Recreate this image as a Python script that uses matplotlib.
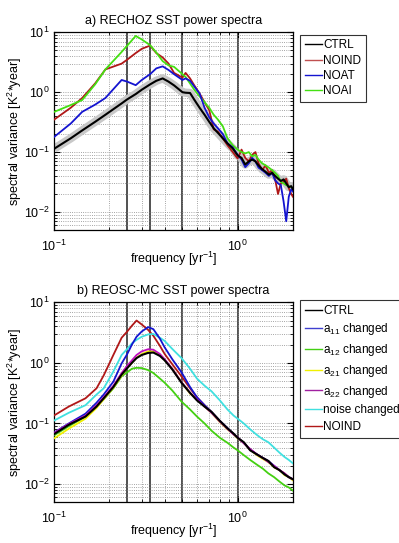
import numpy as np
import matplotlib.pyplot as plt

plt.rcParams['font.family'] = ['Liberation Sans', 'DejaVu Sans']
plt.rcParams['mathtext.fontset'] = 'custom'
plt.rcParams['mathtext.rm'] = 'Liberation Sans'
plt.rcParams['mathtext.default'] = 'regular'

# ---- panel a) RECHOZ ----
freq_a = [0.1, 0.123, 0.142, 0.167, 0.19, 0.233, 0.25, 0.278, 0.3, 0.333,
          0.36, 0.39, 0.42, 0.45, 0.5, 0.52, 0.55, 0.58, 0.62, 0.66,
          0.7, 0.74, 0.78, 0.83, 0.88, 0.94, 1.0, 1.05, 1.1, 1.15,
          1.2, 1.25, 1.3, 1.36, 1.42, 1.48, 1.54, 1.6, 1.66, 1.72,
          1.78, 1.84, 1.9, 1.96, 2.0]
ctrl_a = [0.114, 0.17, 0.23, 0.32, 0.42, 0.65, 0.76, 0.93, 1.1, 1.35,
          1.55, 1.7, 1.5, 1.3, 1.0, 0.98, 0.97, 0.75, 0.55, 0.42,
          0.32, 0.25, 0.21, 0.17, 0.14, 0.115, 0.088, 0.08, 0.062, 0.07,
          0.075, 0.07, 0.06, 0.052, 0.047, 0.042, 0.045, 0.04, 0.036, 0.033,
          0.035, 0.03, 0.026, 0.027, 0.024]
noind_a = [0.35, 0.55, 0.8, 1.4, 2.4, 3.0, 3.5, 4.5, 5.3, 6.0,
           4.5, 3.8, 3.0, 2.1, 1.75, 2.1, 1.7, 1.3, 0.95, 0.68,
           0.5, 0.24, 0.22, 0.17, 0.13, 0.1, 0.078, 0.11, 0.08, 0.07,
           0.09, 0.1, 0.065, 0.05, 0.06, 0.045, 0.05, 0.035, 0.02, 0.03,
           0.032, 0.036, 0.025, 0.02, 0.018]
noat_a = [0.18, 0.3, 0.47, 0.62, 0.8, 1.6, 1.5, 1.31, 1.6, 2.0,
          2.5, 2.7, 2.35, 2.0, 1.6, 1.7, 1.55, 1.25, 0.95, 0.55,
          0.38, 0.3, 0.25, 0.2, 0.14, 0.12, 0.09, 0.075, 0.056, 0.065,
          0.08, 0.07, 0.055, 0.05, 0.045, 0.04, 0.045, 0.034, 0.03, 0.028,
          0.015, 0.007, 0.018, 0.024, 0.022]
noai_a = [0.47, 0.61, 0.74, 1.35, 2.4, 4.7, 6.0, 8.7, 7.6, 6.1,
          4.6, 3.3, 2.8, 2.65, 2.0, 1.8, 1.4, 1.1, 0.85, 0.68,
          0.55, 0.42, 0.35, 0.27, 0.17, 0.13, 0.11, 0.1, 0.095, 0.1,
          0.085, 0.09, 0.075, 0.065, 0.06, 0.055, 0.05, 0.045, 0.04, 0.032,
          0.03, 0.028, 0.027, 0.026, 0.025]

# ---- panel b) REOSC-MC ----
freq_b = [0.08, 0.1, 0.12, 0.148, 0.17, 0.186, 0.21, 0.233, 0.25, 0.265,
          0.281, 0.3, 0.325, 0.347, 0.377, 0.4, 0.44, 0.494, 0.55, 0.6,
          0.66, 0.72, 0.8, 0.88, 0.95, 1.0, 1.08, 1.17, 1.27, 1.37,
          1.47, 1.58, 1.69, 1.8, 1.9, 2.0]
ctrl_b = [0.04, 0.067, 0.095, 0.13, 0.19, 0.26, 0.4, 0.64, 0.82, 1.0,
          1.2, 1.35, 1.46, 1.48, 1.3, 1.1, 0.78, 0.47, 0.32, 0.24,
          0.19, 0.155, 0.11, 0.083, 0.068, 0.058, 0.049, 0.036, 0.031, 0.027,
          0.024, 0.019, 0.017, 0.0145, 0.013, 0.012]
a11_b = [0.042, 0.071, 0.1, 0.145, 0.22, 0.3, 0.49, 0.98, 1.4, 2.0,
         2.7, 3.3, 3.9, 3.6, 2.5, 1.8, 1.15, 0.7, 0.4, 0.27,
         0.2, 0.155, 0.11, 0.084, 0.067, 0.058, 0.048, 0.037, 0.031, 0.027,
         0.024, 0.02, 0.017, 0.0145, 0.013, 0.012]
a12_b = [0.04, 0.064, 0.09, 0.13, 0.19, 0.25, 0.38, 0.6, 0.7, 0.8,
         0.83, 0.82, 0.76, 0.68, 0.55, 0.47, 0.35, 0.23, 0.17, 0.13,
         0.1, 0.076, 0.058, 0.048, 0.04, 0.036, 0.03, 0.025, 0.021, 0.018,
         0.015, 0.013, 0.011, 0.0095, 0.0088, 0.0078]
a21_b = [0.034, 0.057, 0.082, 0.12, 0.18, 0.25, 0.39, 0.62, 0.82, 1.0,
         1.22, 1.4, 1.55, 1.55, 1.35, 1.12, 0.8, 0.48, 0.31, 0.25,
         0.19, 0.15, 0.105, 0.08, 0.066, 0.057, 0.048, 0.037, 0.03, 0.026,
         0.023, 0.019, 0.017, 0.014, 0.013, 0.0115]
a22_b = [0.042, 0.07, 0.098, 0.135, 0.2, 0.27, 0.42, 0.68, 0.9, 1.1,
         1.35, 1.55, 1.68, 1.65, 1.4, 1.15, 0.8, 0.48, 0.32, 0.25,
         0.19, 0.15, 0.107, 0.081, 0.066, 0.059, 0.047, 0.038, 0.031, 0.027,
         0.023, 0.02, 0.017, 0.015, 0.013, 0.012]
noise_b = [0.075, 0.112, 0.15, 0.2, 0.3, 0.38, 0.72, 1.35, 1.7, 2.1,
           2.4, 2.7, 2.95, 3.0, 2.6, 2.3, 1.7, 1.2, 0.8, 0.55,
           0.42, 0.34, 0.24, 0.17, 0.135, 0.12, 0.1, 0.08, 0.065, 0.055,
           0.049, 0.04, 0.033, 0.028, 0.025, 0.022]
noind_b = [0.09, 0.136, 0.19, 0.26, 0.38, 0.62, 1.35, 2.6, 3.3, 4.1,
           5.0, 4.3, 3.5, 2.8, 1.9, 1.4, 0.95, 0.6, 0.38, 0.27,
           0.2, 0.155, 0.11, 0.083, 0.067, 0.058, 0.048, 0.037, 0.031, 0.027,
           0.024, 0.019, 0.017, 0.015, 0.013, 0.012]

periods = [0.25, 1 / 3, 0.5, 1.0]

RED = '#b01818'
fig = plt.figure(figsize=(3.99, 5.43), dpi=100)
ax_a = fig.add_axes([0.136, 0.5764, 0.598, 0.3641])
ax_b = fig.add_axes([0.136, 0.075, 0.598, 0.3683])


def style_axes(ax, title):
    ax.set_xscale('log')
    ax.set_yscale('log')
    ax.set_xlim(0.1, 2.0)
    ax.set_ylim(0.005, 10)
    ax.grid(True, which='both', linestyle=':', color='#888888', lw=0.6)
    for p in periods:
        ax.axvline(p, color='#222222', lw=1.1, zorder=1)
    ax.tick_params(which='both', direction='in', top=True, right=True, labelsize=9)
    ax.tick_params(axis='x', which='major', pad=6)
    ax.tick_params(which='major', length=4)
    ax.tick_params(which='minor', length=2)
    for s in ax.spines.values():
        s.set_linewidth(0.9)
    ax.set_title(title, fontsize=9, pad=6)
    ax.set_xlabel('frequency [yr$^{-1}$]', fontsize=9, labelpad=-3)
    ax.set_ylabel('spectral variance [K$^2$*year]', fontsize=9)
    ax.yaxis.set_label_coords(-0.128, 0.5)


def add_legend(ax, handles, labels, top, spacing):
    leg = ax.legend(handles, labels, loc='upper left',
                    bbox_to_anchor=(0.752, top), bbox_transform=fig.transFigure,
                    fontsize=8.5, frameon=True, fancybox=False, edgecolor='black',
                    handlelength=1.45, handletextpad=0.1, labelspacing=spacing,
                    borderpad=0.4, borderaxespad=0)
    leg.get_frame().set_linewidth(0.8)


style_axes(ax_a, 'a) RECHOZ SST power spectra')
ax_a.plot(freq_a, ctrl_a, color='#c8c8c8', lw=6, solid_capstyle='butt', zorder=2)
ax_a.plot(freq_a, noind_a, color=RED, lw=1.3, zorder=3)
ax_a.plot(freq_a, noai_a, color='#44e012', lw=1.3, zorder=3)
ax_a.plot(freq_a, noat_a, color='#1414d0', lw=1.3, zorder=4)
ax_a.plot(freq_a, ctrl_a, color='black', lw=1.5, zorder=5)

h = [plt.Line2D([], [], color=c, lw=1) for c in ['black', '#c05050', '#1414d0', '#44e012']]
add_legend(ax_a, h, ['CTRL', 'NOIND', 'NOAT', 'NOAI'], 0.936, 0.28)

style_axes(ax_b, 'b) REOSC-MC SST power spectra')
ax_b.plot(freq_b, noind_b, color=RED, lw=1.3, zorder=3)
ax_b.plot(freq_b, noise_b, color='#40e0e0', lw=1.3, zorder=3)
ax_b.plot(freq_b, a12_b, color='#44d012', lw=1.3, zorder=3)
ax_b.plot(freq_b, a21_b, color='#f0f000', lw=1.3, zorder=3)
ax_b.plot(freq_b, a11_b, color='#1414d0', lw=1.3, zorder=4)
ax_b.plot(freq_b, a22_b, color='#c010c0', lw=1.3, zorder=4)
ax_b.plot(freq_b, ctrl_b, color='black', lw=1.5, zorder=5)

cols_b = ['black', '#4040d0', '#44d012', '#f0f000', '#a020a0', '#40e0e0', RED]
labs_b = ['CTRL', 'a$_{11}$ changed', 'a$_{12}$ changed', 'a$_{21}$ changed',
          'a$_{22}$ changed', 'noise changed', 'NOIND']
h = [plt.Line2D([], [], color=c, lw=1) for c in cols_b]
add_legend(ax_b, h, labs_b, 0.4475, 0.4)

fig.savefig('out.png', dpi=100)
